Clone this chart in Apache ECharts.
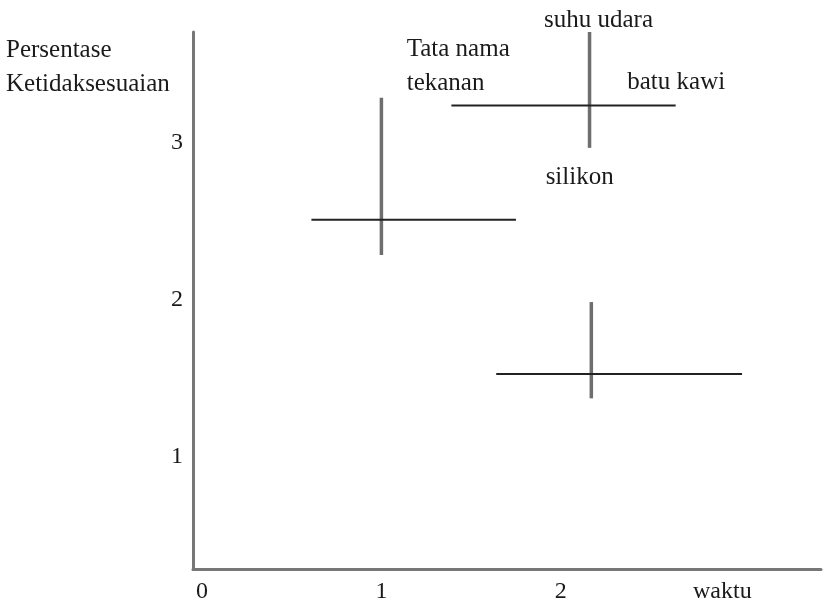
<!DOCTYPE html>
<html>
<head>
<meta charset="utf-8">
<script src="https://cdn.jsdelivr.net/npm/echarts@6/dist/echarts.min.js"></script>
<style>
html,body{margin:0;padding:0;background:#fff;}
#chart{width:824px;height:607px;}
</style>
</head>
<body>
<div id="chart"></div>
<script>
// Cross (error-bar) marks
var crossX = [1.0, 2.16, 2.17];
var crossY = [2.51, 3.24, 1.525];
var crossXLow = [0.61, 1.39, 1.64];
var crossXHigh = [1.75, 2.64, 3.01];
var crossYLow = [2.285, 2.97, 1.37];
var crossYHigh = [3.29, 3.71, 1.985];

// Annotation texts and their data positions
var annoText = ['suhu udara', 'Tata nama\ntekanan', 'batu kawi', 'silikon'];
var annoX = [2.21, 1.141, 2.643, 2.105];
var annoY = [3.786, 3.49, 3.39, 2.783];
var annoAlign = ['center', 'left', 'center', 'center'];

// Tick labels
var xTickValues = [0, 1, 2, 2.9];
var xTickLabels = ['0', '1', '2', 'waktu'];
var yTickValues = [1, 2, 3];
var yTickLabels = ['1', '2', '3'];
var yTitle = 'Persentase\nKetidaksesuaian';

var FONT = 'Liberation Serif';
var TXT = '#1a1a1a';

function findLabel(vals, labels, v) {
  for (var i = 0; i < vals.length; i++) {
    if (Math.abs(vals[i] - v) < 1e-6) return labels[i];
  }
  return '';
}

var crossData = crossX.map(function (x, i) {
  return [x, crossY[i], crossXLow[i], crossXHigh[i], crossYLow[i], crossYHigh[i]];
});
var annoData = annoText.map(function (t, i) {
  return { value: [annoX[i], annoY[i]], label: { formatter: t, align: annoAlign[i] } };
});

var chart = echarts.init(document.getElementById('chart'));
chart.setOption({
  backgroundColor: '#fff',
  animation: false,
  title: {
    text: yTitle,
    left: 6,
    top: 33,
    padding: 0,
    textStyle: { fontFamily: FONT, fontSize: 25, fontWeight: 'normal', color: TXT, lineHeight: 34 }
  },
  grid: { left: 193, right: 0, top: 32, bottom: 38, containLabel: false },
  xAxis: {
    type: 'value',
    min: -0.05,
    max: 3.45,
    interval: 0.05,
    axisLine: { show: true, onZero: false, lineStyle: { color: '#777', width: 3 } },
    axisTick: { show: false },
    splitLine: { show: false },
    axisLabel: {
      show: true,
      margin: 11,
      fontFamily: FONT,
      fontSize: 24,
      color: TXT,
      showMinLabel: true,
      showMaxLabel: true,
      formatter: function (v) { return findLabel(xTickValues, xTickLabels, v); }
    }
  },
  yAxis: {
    type: 'value',
    min: 0.28,
    max: 3.71,
    interval: 0.01,
    axisLine: { show: true, onZero: false, lineStyle: { color: '#777', width: 3 } },
    axisTick: { show: false },
    splitLine: { show: false },
    axisLabel: {
      show: true,
      margin: 10,
      fontFamily: FONT,
      fontSize: 24,
      color: TXT,
      formatter: function (v) { return findLabel(yTickValues, yTickLabels, v); }
    }
  },
  series: [
    {
      type: 'custom',
      clip: false,
      data: crossData,
      renderItem: function (params, api) {
        var xl = api.coord([api.value(2), api.value(1)]);
        var xh = api.coord([api.value(3), api.value(1)]);
        var yl = api.coord([api.value(0), api.value(4)]);
        var yh = api.coord([api.value(0), api.value(5)]);
        return {
          type: 'group',
          children: [
            { type: 'line', shape: { x1: yl[0], y1: yl[1], x2: yh[0], y2: yh[1] },
              style: { stroke: '#6e6e6e', lineWidth: 3.5 } },
            { type: 'line', shape: { x1: xl[0], y1: xl[1], x2: xh[0], y2: xh[1] },
              style: { stroke: '#222', lineWidth: 2 } }
          ]
        };
      }
    },
    {
      type: 'scatter',
      clip: false,
      symbolSize: 0,
      itemStyle: { opacity: 1 },
      data: annoData,
      label: {
        show: true,
        position: 'inside',
        opacity: 1,
        fontFamily: FONT,
        fontSize: 25,
        color: TXT,
        lineHeight: 34
      }
    }
  ]
});
</script>
</body>
</html>
